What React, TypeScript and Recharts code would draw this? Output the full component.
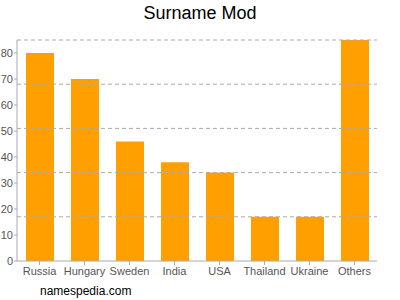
import { BarChart, Bar, XAxis, YAxis, ReferenceLine } from 'recharts'

const countries = ['Russia', 'Hungary', 'Sweden', 'India', 'USA', 'Thailand', 'Ukraine', 'Others']
const counts = [80, 70, 46, 38, 34, 17, 17, 85]
const yTicks = [0, 10, 20, 30, 40, 50, 60, 70, 80]
const gridLines = [17, 34, 51, 68, 85]

const data = countries.map((name, i) => ({ name, value: counts[i] }))

const font = 'Arial, "Liberation Sans", sans-serif'

export default function App() {
  return (
    <div style={{ position: 'absolute', left: 0, top: 0, width: 400, height: 300, fontFamily: font }}>
      <div
        style={{
          position: 'absolute',
          top: 3,
          width: 400,
          textAlign: 'center',
          fontSize: 18,
          color: '#000',
        }}
      >
        Surname Mod
      </div>
      <BarChart
        width={400}
        height={300}
        data={data}
        margin={{ top: 40, right: 23, bottom: 0, left: 0 }}
      >
        {gridLines.map((v) => (
          <ReferenceLine key={v} y={v} stroke="#aaa" strokeDasharray="4 3" ifOverflow="extendDomain" />
        ))}
        <XAxis
          dataKey="name"
          height={39}
          tick={{ fill: '#555', fontSize: 11, fontFamily: font }}
          tickLine={{ stroke: '#aaa' }}
          axisLine={{ stroke: '#aaa' }}
          tickSize={4}
          tickMargin={2}
          interval={0}
        />
        <YAxis
          width={17}
          domain={[0, 85]}
          ticks={yTicks}
          tick={{ fill: '#555', fontSize: 11, fontFamily: font }}
          tickLine={{ stroke: '#aaa' }}
          axisLine={{ stroke: '#aaa' }}
          tickSize={3}
          tickMargin={1}
        />
        <Bar dataKey="value" fill="#ffa000" barSize={28} isAnimationActive={false} />
      </BarChart>
      <div style={{ position: 'absolute', left: 40, top: 284, fontSize: 12, color: '#000' }}>
        namespedia.com
      </div>
    </div>
  )
}
